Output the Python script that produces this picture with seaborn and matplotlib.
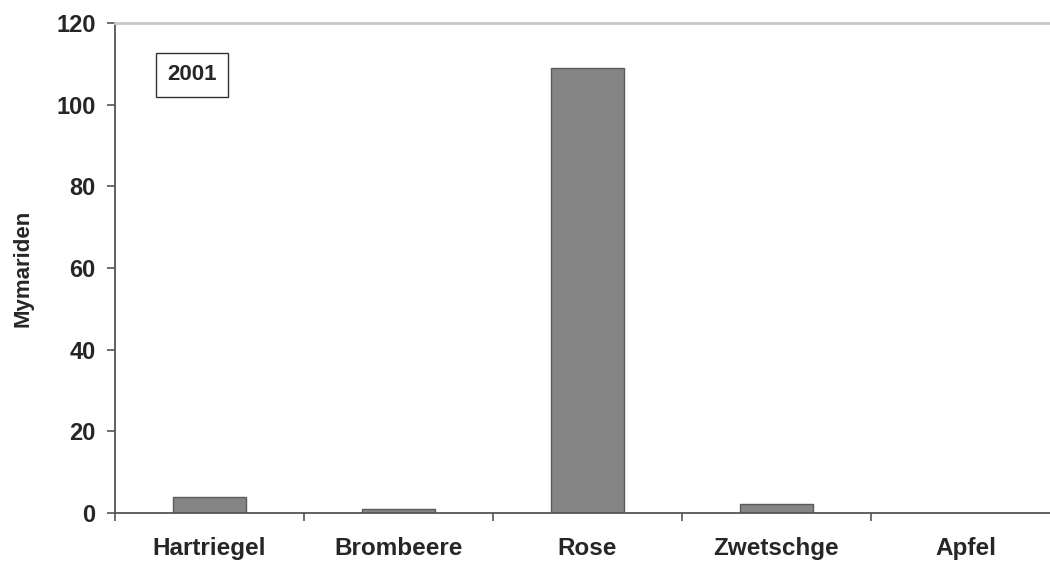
import seaborn as sns
import matplotlib.pyplot as plt
import pandas as pd

# Werte
pflanzen = ["Hartriegel", "Brombeere", "Rose", "Zwetschge", "Apfel"]
mymariden = [4, 1, 109, 2.3, 0]
jahr = "2001"

df = pd.DataFrame({"Pflanze": pflanzen, "Mymariden": mymariden})

sns.set_style("white")
plt.rcParams["font.family"] = ["Liberation Sans", "DejaVu Sans"]
plt.rcParams["font.weight"] = "bold"

fig = plt.figure(figsize=(10.5, 5.63), dpi=100)
ax = fig.add_axes([0.1095, 0.0888, 0.9, 0.8703])

sns.barplot(data=df, x="Pflanze", y="Mymariden", color="#858585",
            width=0.39, edgecolor="#5a5a5a", linewidth=1.0,
            saturation=1, ax=ax)

ax.set_ylim(0, 120)
ax.set_xlim(-0.5, len(pflanzen) - 0.5)
ax.set_yticks(range(0, 121, 20))

# x-Striche zwischen den Kategorien
ax.set_xticks([i - 0.5 for i in range(len(pflanzen))], minor=False)
ax.set_xticklabels([])
ax.set_xticks(range(len(pflanzen)), minor=True)
ax.set_xticklabels(pflanzen, minor=True, fontsize=17.5, fontweight="bold")
ax.tick_params(axis="x", which="minor", length=0, pad=17)
ax.tick_params(axis="x", which="major", direction="out", length=6,
               width=1.2, color="#555555", bottom=True)
ax.tick_params(axis="y", direction="out", length=6, width=1.2,
               color="#555555", labelsize=17, pad=8, left=True)
for lab in ax.get_yticklabels():
    lab.set_fontweight("bold")

ax.set_xlabel("")
ax.set_ylabel("Mymariden", fontsize=16, fontweight="bold", labelpad=16)

for s in ["left", "bottom"]:
    ax.spines[s].set_color("#555555")
    ax.spines[s].set_linewidth(1.3)
ax.spines["top"].set_color("#c8c8c8")
ax.spines["top"].set_linewidth(2)
ax.spines["right"].set_visible(False)

ax.text(0.0815, 0.894, jahr, transform=ax.transAxes, fontsize=16,
        fontweight="bold", ha="center", va="center",
        bbox=dict(boxstyle="square,pad=0.5", facecolor="white",
                  edgecolor="#333333", linewidth=1))

fig.savefig("out.png", dpi=100)
